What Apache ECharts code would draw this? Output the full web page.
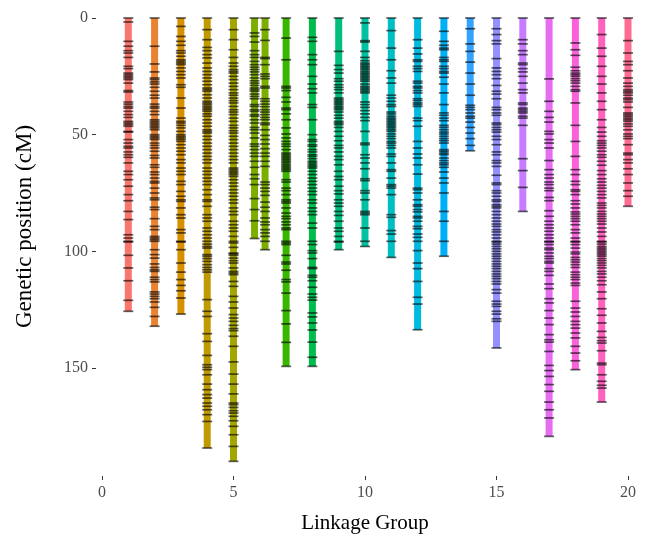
<!DOCTYPE html>
<html>
<head>
<meta charset="utf-8">
<title>Linkage map</title>
<script src="https://cdn.jsdelivr.net/npm/echarts@6/dist/echarts.min.js"></script>
<style>
    html, body { margin: 0; padding: 0; background: #fff; }
    #main { width: 646px; height: 539px; }
</style>
</head>
<body>
<div id="main"></div>
<script>
// marker positions (cM) per linkage group
let lg1 = [0, 1.7, 10, 12.1, 14, 15, 16.9, 20.7, 21.7, 23.6, 24.3, 25, 25.7, 26.4, 27.9, 31.1, 31.7, 36, 36.9, 37.9, 38.6, 40, 41.4, 42.6, 44.3, 45, 45.7, 46.4, 48.6, 48.9, 52.1, 53.6, 55, 55.7, 57.4, 58.6, 59.7, 62.1, 65.7, 67.1, 69.3, 72.1, 75.7, 78.3, 82.9, 86.4, 92.9, 94.3, 95.7, 96, 101.7, 107.1, 112.6, 121, 125.7];
let lg2 = [0, 12.1, 19.7, 23.1, 25.7, 26.4, 27.4, 28.3, 29.7, 31.4, 33.1, 34.3, 36.9, 37.9, 38.6, 40, 41.4, 43.6, 44.3, 45, 45.7, 46.4, 47.1, 47.9, 50, 50.7, 51.4, 52.1, 53.6, 54.6, 55.7, 57.1, 58.9, 60, 62.9, 64, 66, 67.1, 68.6, 70, 70.7, 72.9, 75, 77.1, 77.9, 81.1, 82.1, 86, 89.3, 90.7, 93.6, 94.3, 95, 95.7, 99.3, 101.4, 102.9, 105.4, 106.9, 107.9, 108.6, 111.1, 112.1, 113.1, 117.4, 118.3, 119.3, 120.3, 121.7, 124, 127.9, 132.1];
let lg3 = [0, 3.6, 7.9, 10, 11.7, 14, 15, 16.4, 17.9, 18.6, 19.3, 20, 21.4, 22.9, 24.3, 25.7, 28.6, 29.7, 34.3, 38.6, 42.9, 44.3, 45, 46, 47.1, 48.6, 50, 50.7, 51.4, 52.1, 52.9, 54.3, 55.7, 57.1, 58.6, 60.7, 62.1, 64.3, 65.7, 67.1, 70, 71.4, 74.3, 76.4, 77.9, 78.6, 81.4, 84.3, 85.7, 90.7, 92.1, 95.7, 96, 99.3, 105, 108.9, 112.1, 114.6, 116.9, 120, 126.9];
let lg4 = [0, 5, 9.3, 12.6, 14, 15.7, 17.1, 19.3, 21.4, 22.9, 24.3, 25.7, 27.1, 28.6, 30, 30.7, 31.4, 32.9, 34.3, 35.7, 36.4, 37.1, 37.9, 38.6, 39.3, 40, 41.1, 42.1, 43.6, 45, 46.4, 47.9, 48.6, 49.3, 50.7, 52.1, 53.6, 55, 56.4, 57.9, 59.3, 60.7, 62.1, 64.3, 65.7, 67.1, 68.6, 70, 71.4, 73.6, 75.7, 77.9, 78.6, 80.7, 84.3, 85.7, 87.1, 90, 91.4, 92.9, 94.3, 95.7, 96.9, 97.9, 98.6, 101.4, 102.1, 103.1, 104.3, 105.7, 106.9, 107.9, 108.9, 120.7, 125.7, 127.9, 135.3, 138.6, 144.6, 148.6, 149.7, 150.7, 152.9, 156.9, 159.3, 161.4, 162.9, 165, 166.4, 167.9, 170, 172.9, 184.3];
let lg5 = [0, 5, 9.3, 13.6, 16.9, 19.3, 20.7, 22.1, 22.9, 23.6, 25, 26.4, 27.9, 29.3, 30.7, 32.1, 33.1, 34.3, 35.4, 36.4, 37.9, 39.3, 40.3, 41.4, 42.9, 44.3, 46, 47.1, 48.3, 49.3, 50.7, 52.1, 53.6, 55, 56.4, 57.9, 59.3, 60.7, 62.1, 64.3, 65, 65.7, 66.4, 67.1, 67.9, 69.3, 70.7, 72.1, 73.6, 75, 76.4, 77.9, 79.3, 81.4, 82.9, 84.3, 87.1, 88.6, 90, 91.4, 93.6, 95.7, 96.4, 98.3, 100.7, 101.1, 101.7, 102.9, 104, 105, 107.1, 108.6, 109.3, 110, 112.9, 115, 119.3, 121.7, 124.3, 127.1, 128.6, 130, 131.7, 133.1, 134, 136.4, 140.7, 147.4, 152.6, 156.9, 161.1, 165, 165.7, 166.9, 168.3, 169.3, 170.7, 172.6, 175, 178.6, 183.6, 190];
let lg6a = [0, 6.4, 7.9, 10.3, 14, 15.7, 16.9, 18.6, 20, 21.1, 22.1, 23.1, 24.3, 25.7, 26.9, 27.9, 28.9, 30, 30.7, 31.4, 32.6, 33.6, 34.6, 37.1, 37.9, 39.3, 40, 41.4, 42.1, 43.6, 45, 46.9, 47.9, 49.3, 51.4, 54, 55, 56.4, 57.9, 59.3, 61.4, 64, 67.1, 68.9, 71.4, 77.4, 82.1, 86.9, 94.5];
let lg6b = [0, 5, 9.6, 16.9, 17.4, 20, 24, 25, 26, 29.3, 30, 34.6, 35.7, 36.9, 38, 39.3, 40.3, 41.4, 42.6, 43.6, 45, 45.7, 47.9, 50.3, 52.1, 54, 56, 57.9, 59.3, 61.4, 63.6, 70.3, 71.4, 72.9, 74.3, 76, 78.9, 81.1, 82.9, 85.7, 87.4, 88.6, 90.7, 92.1, 93.6, 95.7, 99.3];
let lg7 = [0, 8.6, 17.9, 29.3, 30, 31.1, 34, 36, 38.6, 39.3, 41.1, 43.6, 47.1, 49.7, 51.4, 52.9, 54, 55, 56.4, 57.9, 58.6, 59.3, 60, 60.7, 61.4, 62.1, 62.9, 63.6, 64.3, 65, 65.7, 69.3, 70.3, 72.9, 74, 75.7, 77.9, 78.6, 79.3, 81.4, 83.6, 85, 86, 87.4, 88.6, 90, 90.7, 95.7, 96.4, 97.1, 101.7, 104.6, 105.4, 108.1, 112.1, 113.1, 117.9, 125.4, 131.1, 139, 149.3];
let lg8 = [0, 8.3, 10, 15.7, 17.9, 20, 25, 28.3, 30.3, 32.1, 37.1, 38.3, 43.6, 50, 52.1, 52.9, 54.3, 55, 56.4, 57.4, 58.6, 59.3, 60.3, 61.4, 62.1, 62.9, 63.6, 64.3, 65.7, 67.1, 68.6, 70, 71.4, 72.9, 74.3, 75.7, 77.9, 79.3, 81.4, 82.9, 84.3, 87.9, 90, 95.7, 97.1, 99.7, 100.7, 103.1, 106.9, 107.4, 110.3, 111.1, 112.6, 115.4, 118.3, 119.7, 120.9, 126.4, 128.1, 130.7, 133.7, 138.9, 145.4, 149.3];
let lg9 = [0, 14.3, 20.3, 22.1, 23.6, 26, 27.1, 28.6, 29.7, 30.7, 32.1, 34.3, 35, 35.7, 36.4, 37.1, 37.9, 38.6, 39.3, 40.3, 41.7, 42.9, 44.3, 45, 45.7, 46.9, 48.6, 50.7, 52.6, 54.6, 55.7, 57.4, 59.3, 60.7, 62.9, 65.7, 67.9, 69.3, 72.1, 74, 75.4, 77.9, 79.3, 80.7, 82.9, 84.6, 87.1, 90, 91.4, 93.6, 95.7, 96, 99.3];
let lg10 = [0, 2.1, 9.7, 10.3, 14.3, 16.9, 18.3, 19.3, 20, 20.7, 21.4, 22.1, 22.9, 23.6, 24.3, 25, 25.7, 26.4, 27.1, 28.3, 29.3, 30, 30.7, 31.4, 32.1, 36, 37.1, 38.3, 39.7, 41.1, 42.6, 44, 48.6, 53.6, 54.3, 58.6, 60, 62.1, 64.6, 68.9, 69.7, 74, 75, 77.9, 82.9, 83.6, 84.3, 90, 95.7, 97.9];
let lg11 = [0, 5.4, 12.9, 17.9, 22.6, 25.7, 27.9, 33.1, 34.3, 35.7, 37.1, 37.9, 40.3, 41.1, 42.1, 42.9, 43.6, 44.3, 45, 45.7, 46.4, 47.1, 47.9, 48.6, 49.7, 50.7, 51.7, 52.9, 53.6, 54.6, 55.7, 58.3, 59.3, 62.1, 65, 65.7, 68.6, 71.4, 72.1, 72.9, 75.7, 84.3, 85.4, 91.1, 92.6, 95.7, 102.6];
let lg12 = [0, 9.3, 12.9, 15.4, 17.9, 18.6, 20.7, 21.7, 22.9, 27.1, 27.9, 29.3, 30, 31.1, 32.1, 34.6, 35.4, 36.4, 37.1, 37.9, 42.9, 44, 46.4, 52.9, 55.7, 58.3, 60, 62.9, 66.9, 72.9, 73.6, 75, 77.9, 80, 80.7, 82.1, 83.1, 85, 85.7, 87.1, 89.3, 90.3, 92.6, 94, 95.7, 99.7, 105, 107.4, 112.9, 119.7, 122.6, 133.6];
let lg13 = [0, 5.7, 10, 11.7, 12.9, 13.6, 16.9, 17.9, 18.6, 20.7, 21.7, 22.9, 23.6, 25.4, 28.3, 32.1, 37.1, 40.7, 41.7, 42.9, 44, 46, 46.9, 47.9, 48.9, 49.7, 50.7, 51.7, 52.6, 53.6, 56.4, 57.1, 57.9, 58.6, 60, 61.1, 62.1, 62.9, 64, 66, 68.6, 70.7, 75, 82.9, 87.1, 95.7, 102.1];
let lg14 = [0, 4.6, 11.1, 14.3, 18.9, 23.6, 28.3, 33.1, 37.4, 38.3, 39.3, 40.7, 42.1, 42.9, 44.6, 46.9, 49.3, 51.7, 54.6, 56.9];
let lg15 = [0, 4.6, 7.1, 9.7, 11.1, 17.4, 21.4, 22.9, 24.3, 26, 28.9, 31.4, 32.6, 34.6, 38.3, 39.3, 40.7, 41.7, 45, 45.7, 46.9, 47.9, 48.9, 50.7, 52.1, 54.3, 57.4, 58.6, 61.1, 62.1, 63.6, 67.4, 70.7, 71.4, 74, 75, 76.4, 77.9, 78.6, 80, 80.7, 81.4, 82.9, 84.3, 85.7, 87.1, 88.3, 89.3, 90.7, 91.7, 92.9, 94.3, 95.7, 96, 96.9, 97.9, 98.9, 100, 101.1, 102.1, 103.1, 104.3, 105.4, 106.4, 107.4, 108.6, 109.7, 110.7, 111.7, 112.9, 114, 116.4, 117.9, 121.4, 122.6, 123.6, 125.7, 126.9, 128.9, 130, 141.4];
let lg16 = [0, 9.3, 11.1, 14, 15.7, 19.3, 20, 21.7, 23.1, 25, 27.9, 30.7, 32.1, 36.4, 37.1, 38.6, 39.3, 40, 40.7, 42.1, 42.9, 46, 60.3, 65.4, 72.6, 82.9];
let lg17 = [0, 26.1, 35.7, 40, 42.6, 44.6, 48.6, 49.7, 52.1, 53.6, 55.7, 61.1, 65, 67.1, 68.6, 70.3, 71.4, 72.9, 74, 76.9, 78.3, 82.6, 85, 87.1, 88.6, 90, 91.4, 92.9, 94.3, 95.7, 96, 97.1, 98.6, 99.3, 100.7, 102.1, 103.1, 104.3, 105, 107.4, 108.6, 110.3, 114, 116, 120.3, 122.1, 125.4, 128.6, 131.4, 135.7, 137.9, 138.9, 142.9, 148.9, 151.1, 153.6, 157.1, 160, 164.6, 167.9, 171.4, 179.3];
let lg18 = [0, 10.7, 13.6, 16, 21.1, 22.6, 23.6, 24.3, 25, 26, 26.9, 27.9, 29.3, 30.7, 31.4, 36.4, 46, 52.9, 59.3, 65, 67.1, 70, 71.4, 73.6, 74.3, 75.7, 78.3, 79.7, 81.4, 83.1, 84, 85, 86, 87.1, 88.6, 90.7, 92.1, 94.3, 95.7, 96, 97.1, 98.6, 100.3, 101.1, 102.6, 103.6, 104.6, 105.7, 106.9, 108.9, 110, 111.1, 112.1, 113.6, 114.6, 121.4, 124.3, 126, 127.9, 130, 131.4, 132.9, 135, 137.1, 140.7, 143.6, 146.9, 150.7];
let lg19 = [0, 7.1, 12.9, 16.4, 20.7, 25, 28.3, 32.1, 35.7, 39.3, 43.6, 46.9, 48.9, 50.7, 52.6, 53.6, 54.6, 55.7, 57.1, 58.6, 59.7, 61.4, 63.1, 65.4, 67.1, 68.9, 70.3, 71.7, 72.9, 74.3, 75.7, 77.1, 79.3, 80.3, 81.4, 82.9, 84, 85, 86, 87.1, 88.3, 90, 91.7, 93.6, 95.7, 96, 96.9, 97.9, 98.6, 99.3, 100, 100.7, 101.4, 102.1, 103.1, 104, 105, 106, 107.1, 108.6, 109.7, 111.1, 112.6, 114.3, 117.4, 120.3, 124.6, 127.4, 130.7, 134.3, 136.9, 138.3, 139.3, 142.6, 147.9, 148.6, 152.9, 155.7, 157.4, 158.6, 164.6];
let lg20 = [0, 9.7, 15, 18.6, 20, 22.6, 25.7, 27.9, 29.3, 30.7, 31.4, 32.1, 33.1, 34.3, 35, 36, 38.3, 40.7, 41.4, 42.1, 42.9, 43.6, 44.3, 45.4, 46.4, 47.9, 49.7, 50.7, 51.7, 54.3, 57.9, 58.6, 60.7, 62.1, 64.6, 67.1, 70.7, 74, 76.4, 80.7];

// x position of each drawn group (LG6 is drawn as two pieces)
let groupX = [1, 2, 3, 4, 5, 5.8, 6.2, 7, 8, 9, 10, 11, 12, 13, 14, 15, 16, 17, 18, 19, 20];
let groupMarkers = [lg1, lg2, lg3, lg4, lg5, lg6a, lg6b, lg7, lg8, lg9, lg10, lg11, lg12, lg13, lg14, lg15, lg16, lg17, lg18, lg19, lg20];
let groupColorIdx = [0, 1, 2, 3, 4, 5, 5, 6, 7, 8, 9, 10, 11, 12, 13, 14, 15, 16, 17, 18, 19];

let palette = ['#F8766D', '#EA8331', '#D89000', '#C09B00', '#A3A500', '#7CAE00', '#39B600', '#00BB4E', '#00BF7D', '#00C1A3',
    '#00BFC4', '#00BAE0', '#00B0F6', '#35A2FF', '#9590FF', '#C77CFF', '#E76BF3', '#FA62DB', '#FF62BC', '#FF6C91'];

let xTicks = [0, 5, 10, 15, 20];
let yTicks = [0, 50, 100, 150];

let serif = 'Liberation Serif';

// bars: one per group, from 0 to the last marker
let barData = [];
let markerData = [];
for (let i = 0; i < groupX.length; i++) {
    let m = groupMarkers[i];
    barData.push({
        value: [groupX[i], Math.max.apply(null, m)],
        itemStyle: {color: palette[groupColorIdx[i]]}
    });
    for (let j = 0; j < m.length; j++) {
        markerData.push([groupX[i], m[j]]);
    }
}

let option = {
    animation: false,
    backgroundColor: '#fff',
    grid: {
        left: 102,
        right: 18,
        top: 18,
        height: 455
    },
    xAxis: {
        type: 'value',
        min: 0,
        max: 20,
        offset: 3,
        name: 'Linkage Group',
        nameLocation: 'middle',
        nameGap: 37,
        nameTextStyle: {fontFamily: serif, fontSize: 21, color: '#000'},
        axisLine: {show: false, onZero: false},
        splitLine: {show: false},
        axisTick: {show: true, length: 4, customValues: xTicks, lineStyle: {color: '#333', width: 1}},
        axisLabel: {customValues: xTicks, fontFamily: serif, fontSize: 16, color: '#4D4D4D', margin: 9}
    },
    yAxis: {
        type: 'value',
        inverse: true,
        min: 0,
        max: 195,
        offset: 6,
        name: 'Genetic position (cM)',
        nameLocation: 'middle',
        nameGap: 60,
        nameRotate: 90,
        nameTextStyle: {fontFamily: serif, fontSize: 23, color: '#000', padding: [0, 0, 0, 38]},
        axisLine: {show: false, onZero: false},
        splitLine: {show: false},
        axisTick: {show: true, length: 4, customValues: yTicks, lineStyle: {color: '#333', width: 1}},
        axisLabel: {customValues: yTicks, fontFamily: serif, fontSize: 16, color: '#4D4D4D', margin: 8}
    },
    series: [
        {
            name: 'groups',
            type: 'bar',
            barWidth: 7,
            data: barData
        },
        {
            name: 'markers',
            type: 'scatter',
            symbol: 'rect',
            symbolSize: [10, 1.7],
            itemStyle: {color: 'rgba(0,0,0,0.78)'},
            z: 3,
            data: markerData
        }
    ]
};

echarts.init(document.getElementById('main')).setOption(option);
</script>
</body>
</html>
